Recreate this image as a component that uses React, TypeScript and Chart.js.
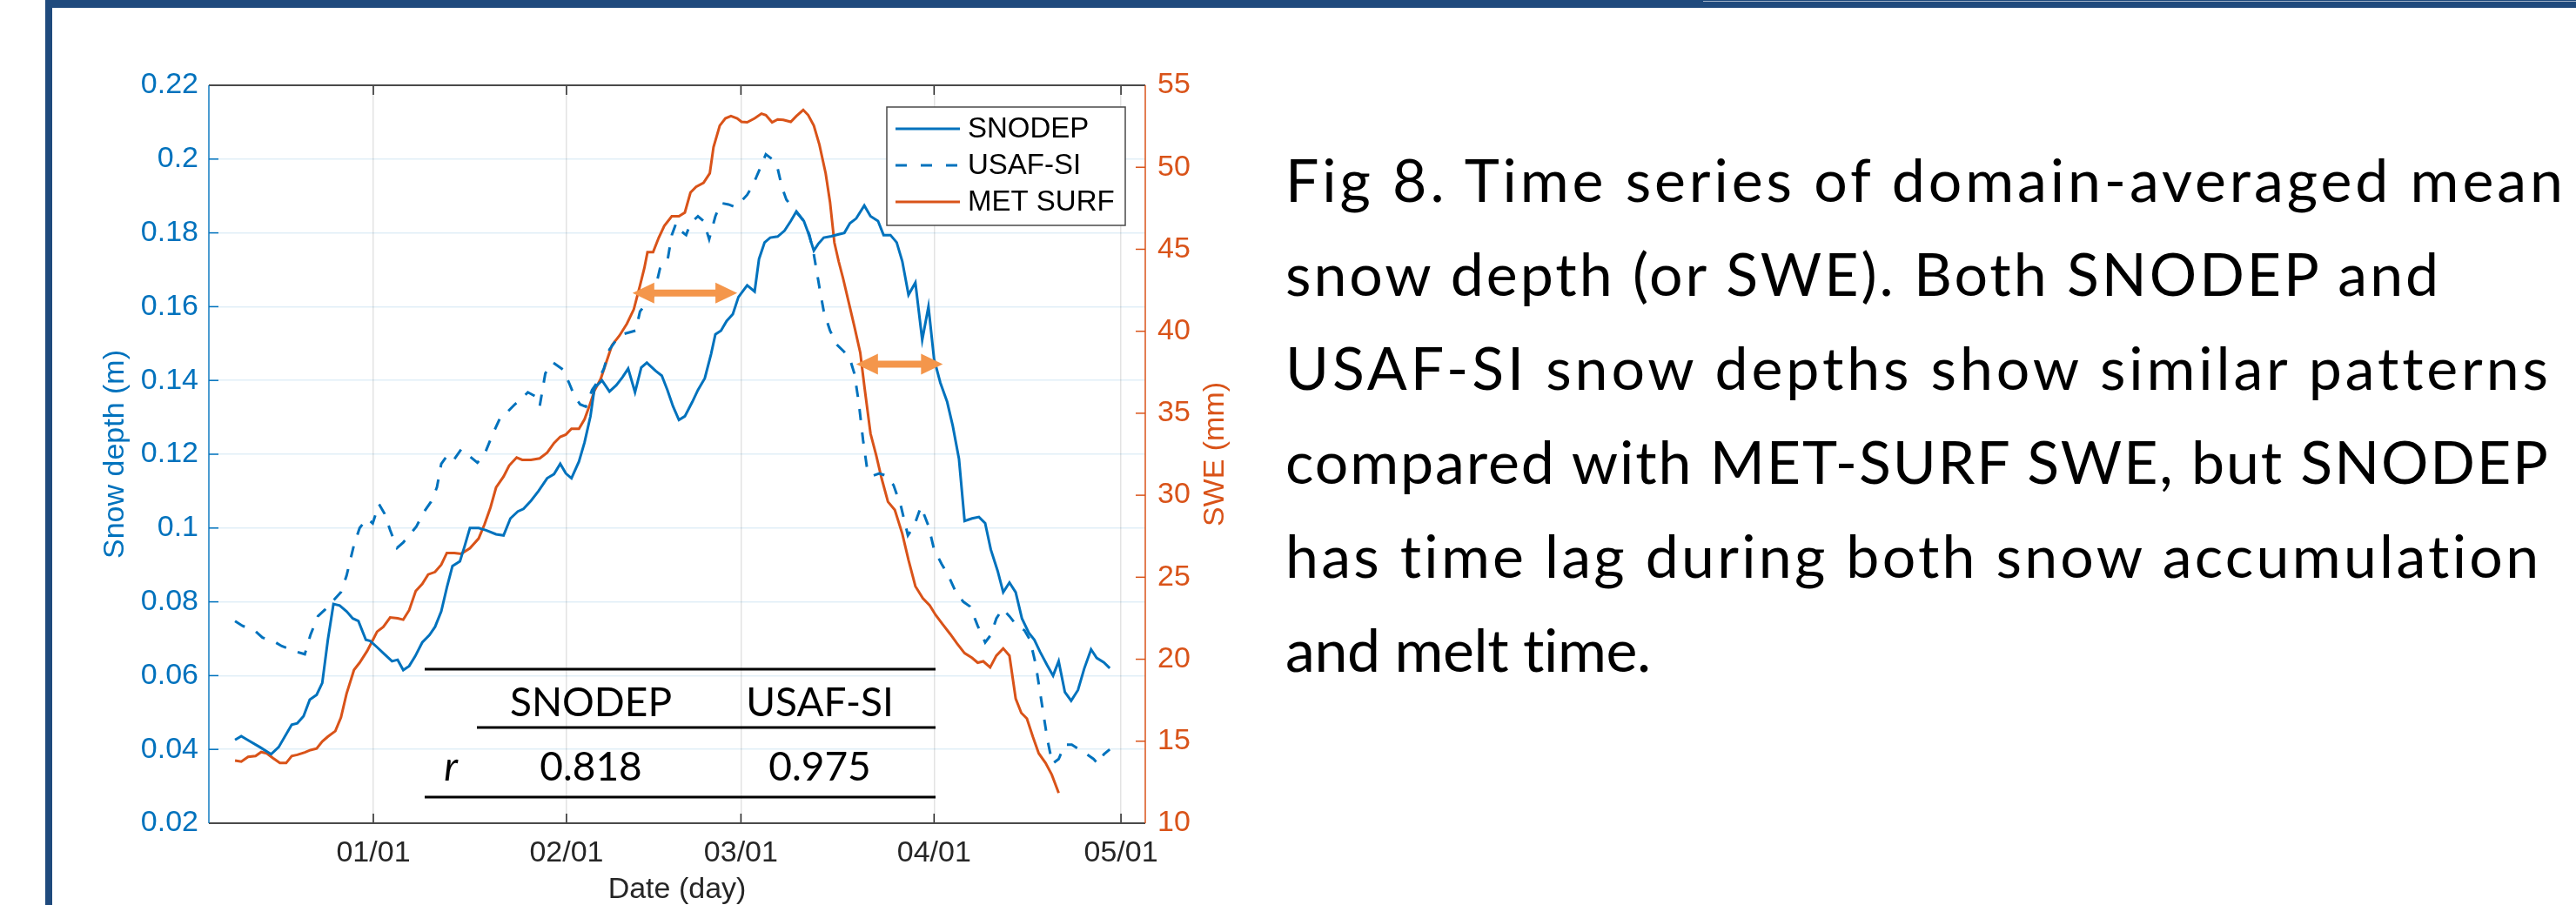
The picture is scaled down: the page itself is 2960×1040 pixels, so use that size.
import React, { useEffect, useRef } from "react";
import { Chart, registerables } from "chart.js";

Chart.register(...registerables);

// ---------- data ----------
// x: days relative to 1 January (Dec 10 = -22, Apr 29 = 118)
const tickDays = [0, 31, 59, 90, 120];
const tickLabels = ["01/01", "02/01", "03/01", "04/01", "05/01"];
const depthTicks = [0.02, 0.04, 0.06, 0.08, 0.1, 0.12, 0.14, 0.16, 0.18, 0.2, 0.22];
const sweTicks = [10, 15, 20, 25, 30, 35, 40, 45, 50, 55];

const snodepDay = [
  -22.2, -21.2, -20.2, -18.2, -16.4, -15.2, -13.1, -12.2, -11.2, -10.2,
  -9.1, -8.2, -7.3, -6.4, -5.4, -4.3, -3.3, -2.4, -1.2, -0.5,
  0.6, 1.8, 3.0, 3.9, 4.8, 5.75, 6.7, 7.85, 9.0, 9.9,
  10.9, 11.8, 12.7, 13.9, 14.6, 15.5, 16.9, 18.1, 19.7, 20.9,
  22.0, 23.2, 24.1, 25.3, 26.5, 27.9, 29.0, 30.0, 30.9, 31.8,
  33.0, 33.9, 34.85, 35.5, 36.7, 37.9, 39.0, 40.0, 40.9, 42.0,
  43.0, 43.9, 45.3, 46.3, 47.2, 48.1, 49.05, 50.0, 51.2, 52.1,
  53.2, 54.2, 54.9, 55.8, 56.7, 57.7, 58.6, 60.0, 61.2, 61.9,
  62.8, 63.7, 64.9, 66.0, 67.0, 67.9, 69.1, 69.8, 70.7, 71.4,
  72.3, 73.5, 74.7, 75.6, 76.5, 77.5, 78.8, 79.8, 81.0, 81.9,
  83.0, 84.0, 84.9, 85.9, 87.0, 88.1, 89.1, 90.0, 91.0, 92.1,
  93.0, 94.0, 94.9, 96.1, 97.2, 98.2, 99.1, 100.2, 101.1, 102.1,
  103.1, 104.1, 105.2, 106.1, 107.0, 108.1, 109.1, 110.0, 111.0, 112.0,
  113.1, 114.1, 115.2, 116.1, 117.25, 118.2,
];
const snodepDepth = [
  0.0426, 0.0436, 0.0426, 0.0406, 0.0387, 0.0406, 0.0467, 0.0471, 0.049, 0.0535,
  0.0548, 0.058, 0.0697, 0.0794, 0.079, 0.0774, 0.0755, 0.0748, 0.0697, 0.0694,
  0.0677, 0.0658, 0.0639, 0.0643, 0.0615, 0.0626, 0.0652, 0.069, 0.071, 0.0732,
  0.0774, 0.0839, 0.0897, 0.091, 0.0948, 0.1, 0.1, 0.0994, 0.0983, 0.098,
  0.1026, 0.1045, 0.1052, 0.1074, 0.11, 0.1135, 0.1146, 0.1174, 0.1148, 0.1135,
  0.118, 0.1232, 0.1303, 0.138, 0.14, 0.137, 0.1387, 0.1409, 0.1432, 0.1368,
  0.1435, 0.1448, 0.1426, 0.1413, 0.1374, 0.133, 0.1293, 0.1303, 0.1342, 0.1374,
  0.1406, 0.1471, 0.1525, 0.1535, 0.1561, 0.158, 0.1626, 0.1658, 0.1641, 0.1729,
  0.1774, 0.1787, 0.179, 0.1806, 0.1832, 0.1858, 0.1832, 0.18, 0.1752, 0.177,
  0.1787, 0.1791, 0.1796, 0.18, 0.1826, 0.1839, 0.1874, 0.1845, 0.1832, 0.1794,
  0.1794, 0.1774, 0.1723, 0.1632, 0.1665, 0.151, 0.16, 0.1458, 0.1394, 0.1342,
  0.1277, 0.1187, 0.1019, 0.1026, 0.103, 0.1013, 0.0942, 0.0884, 0.0826, 0.0852,
  0.0826, 0.0755, 0.0716, 0.0697, 0.0665, 0.063, 0.06, 0.0639, 0.0555, 0.0532,
  0.0561, 0.0619, 0.0671, 0.0648, 0.0636, 0.062,
];

const usafDay = [
  -22.2, -21.0, -18.9, -17.8, -15.7, -14.7, -12.4, -11.0, -10.1, -8.9,
  -7.7, -6.6, -5.2, -4.3, -3.1, -2.2, -1.0, -0.1, 0.9, 1.8,
  2.7, 3.8, 4.8, 5.75, 6.9, 8.1, 9.25, 10.2, 10.9, 12.0,
  13.0, 14.1, 15.5, 16.7, 17.85, 19.25, 20.4, 21.6, 22.7, 23.9,
  24.8, 26.0, 26.7, 27.6, 28.8, 30.4, 31.4, 32.3, 33.2, 34.1,
  35.1, 36.0, 37.0, 37.9, 39.0, 40.2, 42.1, 42.8, 43.7, 44.6,
  45.3, 46.0, 47.2, 47.9, 48.6, 49.3, 50.2, 50.9, 52.1, 53.0,
  53.9, 54.9, 55.8, 57.0, 57.9, 58.8, 60.0, 60.9, 61.9, 63.0,
  64.0, 64.9, 65.6, 66.3, 67.2, 68.1, 69.1, 70.0, 70.7, 71.6,
  72.3, 73.3, 74.4, 75.6, 76.5, 77.2, 77.9, 78.6, 79.3, 80.2,
  81.2, 82.3, 83.5, 84.7, 85.8, 86.8, 87.9, 89.1, 90.0, 91.2,
  92.3, 93.5, 94.7, 95.8, 97.0, 98.2, 99.1, 100.0, 101.0, 102.1,
  103.3, 104.5, 105.4, 106.3, 107.25, 108.2, 109.0, 110.0, 111.0, 112.1,
  113.3, 114.5, 115.6, 116.3, 117.25, 118.2,
];
const usafDepth = [
  0.0748, 0.0735, 0.072, 0.0703, 0.069, 0.068, 0.0665, 0.0658, 0.071, 0.0761,
  0.078, 0.08, 0.0826, 0.0871, 0.0955, 0.1, 0.1026, 0.1013, 0.1065, 0.1039,
  0.0994, 0.0946, 0.0961, 0.098, 0.1004, 0.1043, 0.1071, 0.111, 0.1174, 0.12,
  0.1187, 0.1213, 0.1194, 0.1177, 0.12, 0.1258, 0.13, 0.1316, 0.1335, 0.1352,
  0.1368, 0.1357, 0.133, 0.1419, 0.1449, 0.143, 0.1394, 0.1357, 0.1335, 0.1329,
  0.1374, 0.1396, 0.1432, 0.1484, 0.151, 0.1526, 0.1535, 0.1587, 0.1606, 0.1613,
  0.1652, 0.1703, 0.1723, 0.1794, 0.1826, 0.1806, 0.1794, 0.1826, 0.1845, 0.1832,
  0.1783, 0.1845, 0.1881, 0.1877, 0.1871, 0.1881, 0.1903, 0.1929, 0.1968, 0.2013,
  0.2, 0.1974, 0.1923, 0.189, 0.1871, 0.1852, 0.1832, 0.1794, 0.1742, 0.1652,
  0.1587, 0.1535, 0.1497, 0.1477, 0.1458, 0.1419, 0.1342, 0.1239, 0.1155, 0.1142,
  0.1148, 0.1142, 0.1116, 0.1058, 0.098, 0.1006, 0.1058, 0.1006, 0.0942, 0.0903,
  0.0871, 0.0826, 0.08, 0.0787, 0.0735, 0.069, 0.071, 0.0755, 0.0781, 0.0761,
  0.0735, 0.0723, 0.0697, 0.0632, 0.0529, 0.0426, 0.0361, 0.0374, 0.0413, 0.0413,
  0.04, 0.0387, 0.0374, 0.0361, 0.0387, 0.04,
];

const metDay = [
  -22.2, -21.2, -20.1, -18.9, -18.0, -17.1, -16.1, -15.0, -14.0, -13.1,
  -12.2, -11.0, -10.1, -9.1, -8.2, -7.3, -6.1, -5.2, -4.3, -3.1,
  -2.2, -1.0, -0.1, 0.6, 1.6, 2.7, 3.9, 4.8, 5.75, 6.8,
  7.85, 8.8, 9.9, 10.9, 11.8, 13.0, 14.1, 15.5, 16.9, 17.85,
  18.8, 19.7, 20.9, 21.8, 23.0, 23.9, 25.3, 26.7, 27.9, 29.0,
  30.0, 30.9, 31.8, 33.0, 33.9, 34.6, 35.5, 36.5, 37.4, 38.3,
  39.5, 40.7, 41.8, 42.8, 43.5, 44.0, 44.9, 45.8, 46.7, 47.9,
  49.05, 50.0, 50.9, 51.8, 53.0, 54.0, 54.6, 55.6, 56.5, 57.4,
  58.4, 59.1, 60.0, 61.2, 62.3, 63.0, 64.0, 64.9, 65.8, 67.0,
  67.9, 69.0, 69.8, 70.7, 71.6, 72.6, 73.3, 74.0, 74.7, 75.4,
  76.3, 77.2, 78.15, 78.85, 79.8, 80.7, 81.6, 82.6, 83.7, 84.9,
  85.9, 87.0, 88.2, 89.3, 90.25, 91.4, 92.6, 93.7, 94.9, 96.1,
  97.0, 97.9, 99.0, 100.0, 101.1, 102.1, 103.1, 104.0, 104.9, 105.85,
  106.8, 107.9, 108.9, 110.0,
];
const metSwe = [
  13.82, 13.76, 14.05, 14.1, 14.34, 14.26, 13.97, 13.67, 13.67, 14.1,
  14.17, 14.32, 14.46, 14.55, 14.98, 15.28, 15.62, 16.44, 17.9, 19.35,
  19.79, 20.5, 21.16, 21.68, 21.97, 22.55, 22.5, 22.41, 22.99, 24.15,
  24.59, 25.17, 25.32, 25.76, 26.48, 26.48, 26.43, 26.77, 27.36, 28.23,
  29.25, 30.47, 31.14, 31.81, 32.3, 32.16, 32.16, 32.25, 32.6, 33.18,
  33.56, 33.7, 34.05, 34.05, 34.63, 35.36, 36.38, 37.1, 38.13, 39.15,
  39.73, 40.46, 41.33, 42.79, 43.86, 44.82, 44.82, 45.7, 46.43, 47.01,
  47.01, 47.24, 48.46, 48.81, 49.05, 49.63, 51.23, 52.54, 52.98, 53.12,
  52.98, 52.77, 52.74, 52.98, 53.27, 53.18, 52.74, 52.92, 52.89, 52.77,
  53.12, 53.5, 53.18, 52.54, 51.37, 49.63, 47.88, 45.41, 44.24, 43.22,
  41.77, 40.31, 38.7, 36.53, 33.76, 32.45, 31.0, 29.6, 29.1, 27.65,
  26.05, 24.45, 23.72, 23.28, 22.7, 22.12, 21.53, 20.95, 20.37, 20.08,
  19.79, 19.87, 19.5, 20.22, 20.66, 20.22, 17.6, 16.73, 16.38, 15.28,
  14.26, 13.67, 12.95, 11.84,
];

const seriesNames = ["SNODEP", "USAF-SI", "MET SURF"];

// lag arrows: [start day, end day, snow depth level]
const lagArrows = [
  [41.6, 58.4, 0.1637],
  [77.5, 91.4, 0.1444],
];

const tableHeader = ["SNODEP", "USAF-SI"];
const tableRowLabel = "r";
const tableValues = ["0.818", "0.975"];

const paragraphLines = [
  "Fig 8. Time series of domain-averaged mean",
  "snow depth (or SWE). Both SNODEP and",
  "USAF-SI snow depths show similar patterns",
  "compared with MET-SURF SWE, but SNODEP",
  "has time lag during both snow accumulation",
  "and melt time.",
];
// rendered width of each paragraph line in the reference (px)
const paragraphWidths = [1468, 1325, 1451, 1451, 1440, 420];

// ---------- style ----------
const BLUE = "#0072BD";
const ORANGE = "#D95319";
const ARROW = "#F4964B";
const AXIS_DARK = "#262626";
const TICK_FONT = { family: "'Liberation Sans', Arial, sans-serif", size: 34 };
const X_MIN = -26.4;
const X_MAX = 123.9;

const pts = (days: number[], vals: number[]) => days.map((d, i) => ({ x: d, y: vals[i] }));

const decorPlugin = {
  id: "decor",
  afterDraw(chart: any) {
    const { ctx, chartArea: a, scales } = chart;
    const sx = scales.x;
    const sy = scales.y;
    const sy1 = scales.y1;
    const line = (x1: number, y1: number, x2: number, y2: number) => {
      ctx.beginPath();
      ctx.moveTo(x1, y1);
      ctx.lineTo(x2, y2);
      ctx.stroke();
    };
    ctx.save();
    ctx.lineCap = "butt";

    // inward tick marks
    ctx.strokeStyle = AXIS_DARK;
    ctx.lineWidth = 1.5;
    tickDays.forEach((d) => {
      const px = sx.getPixelForValue(d);
      line(px, a.bottom, px, a.bottom - 11);
      line(px, a.top, px, a.top + 11);
    });
    ctx.strokeStyle = BLUE;
    depthTicks.forEach((v) => {
      const py = sy.getPixelForValue(v);
      line(a.left, py, a.left + 11, py);
    });
    ctx.strokeStyle = ORANGE;
    sweTicks.forEach((v) => {
      const py = sy1.getPixelForValue(v);
      line(a.right, py, a.right - 11, py);
    });

    // axis box
    ctx.strokeStyle = "#4a4a4a";
    ctx.lineWidth = 2;
    line(a.left, a.top, a.right, a.top);
    line(a.left, a.bottom, a.right, a.bottom);
    ctx.strokeStyle = "rgba(0,114,189,0.7)";
    line(a.left, a.top, a.left, a.bottom);
    ctx.strokeStyle = "rgba(217,83,25,0.75)";
    line(a.right, a.top, a.right, a.bottom);

    // lag arrows
    ctx.fillStyle = ARROW;
    lagArrows.forEach(([d1, d2, v]) => {
      const x1 = sx.getPixelForValue(d1);
      const x2 = sx.getPixelForValue(d2);
      const y = sy.getPixelForValue(v);
      const head = 25, half = 12, sh = 4;
      ctx.beginPath();
      ctx.moveTo(x1, y);
      ctx.lineTo(x1 + head, y - half);
      ctx.lineTo(x1 + head, y - sh);
      ctx.lineTo(x2 - head, y - sh);
      ctx.lineTo(x2 - head, y - half);
      ctx.lineTo(x2, y);
      ctx.lineTo(x2 - head, y + half);
      ctx.lineTo(x2 - head, y + sh);
      ctx.lineTo(x1 + head, y + sh);
      ctx.lineTo(x1 + head, y + half);
      ctx.closePath();
      ctx.fill();
    });

    // correlation table
    ctx.strokeStyle = "#000";
    ctx.lineWidth = 3;
    line(488, 769, 1075, 769);
    line(548, 836, 1075, 836);
    line(488, 916, 1075, 916);
    ctx.fillStyle = "#000";
    ctx.textAlign = "center";
    ctx.textBaseline = "alphabetic";
    ctx.font = "46px Lato, 'Open Sans', sans-serif";
    ctx.fillText(tableHeader[0], 679, 823);
    ctx.fillText(tableHeader[1], 942, 823);
    ctx.fillText(tableValues[0], 679, 897);
    ctx.fillText(tableValues[1], 942, 897);
    ctx.font = "italic 46px Lato, 'Open Sans', sans-serif";
    ctx.fillText(tableRowLabel, 518, 897);

    // legend
    const lx = 1019, ly = 123, lw = 274, lh = 136;
    ctx.fillStyle = "#fff";
    ctx.fillRect(lx, ly, lw, lh);
    ctx.strokeStyle = "#4a4a4a";
    ctx.lineWidth = 1.5;
    ctx.strokeRect(lx, ly, lw, lh);
    const rows = [148, 190, 232];
    const colors = [BLUE, BLUE, ORANGE];
    const dashes = [[], [13, 16], []];
    rows.forEach((ry, i) => {
      ctx.strokeStyle = colors[i];
      ctx.lineWidth = 3;
      ctx.setLineDash(dashes[i]);
      line(1029, ry, 1103, ry);
      ctx.setLineDash([]);
      ctx.fillStyle = "#000";
      ctx.textAlign = "left";
      ctx.textBaseline = "middle";
      ctx.font = "33px 'Liberation Sans', Arial, sans-serif";
      ctx.fillText(seriesNames[i], 1112, ry + 1);
    });

    // axis titles
    ctx.font = "34px 'Liberation Sans', Arial, sans-serif";
    ctx.textAlign = "center";
    ctx.textBaseline = "middle";
    const midY = (a.top + a.bottom) / 2;
    ctx.fillStyle = BLUE;
    ctx.save();
    ctx.translate(133, midY);
    ctx.rotate(-Math.PI / 2);
    ctx.fillText("Snow depth (m)", 0, 0);
    ctx.restore();
    ctx.fillStyle = ORANGE;
    ctx.save();
    ctx.translate(1397, midY);
    ctx.rotate(-Math.PI / 2);
    ctx.fillText("SWE (mm)", 0, 0);
    ctx.restore();
    ctx.fillStyle = AXIS_DARK;
    ctx.fillText("Date (day)", (a.left + a.right) / 2, 1023);

    ctx.restore();
  },
};

export default function App() {
  const canvasRef = useRef<HTMLCanvasElement | null>(null);
  const lineRefs = useRef<(HTMLSpanElement | null)[]>([]);

  useEffect(() => {
    lineRefs.current.forEach((el, i) => {
      if (!el) return;
      el.style.letterSpacing = "0px";
      const w = el.getBoundingClientRect().width;
      const n = paragraphLines[i].length;
      const ls = (paragraphWidths[i] - w) / Math.max(1, n - 1);
      el.style.letterSpacing = `${ls.toFixed(2)}px`;
    });
  }, []);

  useEffect(() => {
    const canvas = canvasRef.current;
    if (!canvas) return;
    const chart = new Chart(canvas, {
      type: "line",
      data: {
        datasets: [
          {
            label: seriesNames[0],
            data: pts(snodepDay, snodepDepth),
            borderColor: BLUE,
            borderWidth: 3,
            yAxisID: "y",
          },
          {
            label: seriesNames[1],
            data: pts(usafDay, usafDepth),
            borderColor: BLUE,
            borderWidth: 3,
            borderDash: [13, 14],
            yAxisID: "y",
          },
          {
            label: seriesNames[2],
            data: pts(metDay, metSwe),
            borderColor: ORANGE,
            borderWidth: 3,
            yAxisID: "y1",
          },
        ],
      },
      options: {
        responsive: false,
        animation: false,
        devicePixelRatio: 1,
        layout: { padding: { top: 98, left: 0, right: 0, bottom: 0 } },
        elements: { point: { radius: 0 }, line: { tension: 0, fill: false } },
        plugins: { legend: { display: false }, tooltip: { enabled: false } },
        scales: {
          x: {
            type: "linear",
            min: X_MIN,
            max: X_MAX,
            afterBuildTicks: (s: any) => {
              s.ticks = tickDays.map((v) => ({ value: v }));
            },
            afterFit: (s: any) => {
              s.height = 94;
            },
            ticks: {
              autoSkip: false,
              maxRotation: 0,
              minRotation: 0,
              padding: 14,
              color: AXIS_DARK,
              font: TICK_FONT,
              callback: (v: any) => {
                const i = tickDays.indexOf(Number(v));
                return i >= 0 ? tickLabels[i] : "";
              },
            },
            grid: { color: "rgba(38,38,38,0.13)", lineWidth: 1.5, drawTicks: false },
            border: { display: false },
          },
          y: {
            type: "linear",
            position: "left",
            min: 0.02,
            max: 0.22,
            afterBuildTicks: (s: any) => {
              s.ticks = depthTicks.map((v) => ({ value: v }));
            },
            afterFit: (s: any) => {
              s.width = 240;
            },
            ticks: {
              padding: 12,
              color: BLUE,
              font: TICK_FONT,
              callback: (v: any) => String(Number(v)),
            },
            grid: { color: "rgba(0,114,189,0.12)", lineWidth: 1.5, drawTicks: false },
            border: { display: false },
          },
          y1: {
            type: "linear",
            position: "right",
            min: 10,
            max: 55,
            afterBuildTicks: (s: any) => {
              s.ticks = sweTicks.map((v) => ({ value: v }));
            },
            afterFit: (s: any) => {
              s.width = 1480 - 1316;
            },
            ticks: {
              padding: 14,
              color: ORANGE,
              font: TICK_FONT,
              callback: (v: any) => String(Number(v)),
            },
            grid: { display: false, drawTicks: false },
            border: { display: false },
          },
        },
      },
      plugins: [decorPlugin],
    } as any);
    return () => chart.destroy();
  }, []);

  return (
    <div
      style={{
        position: "fixed",
        left: 0,
        top: 0,
        width: 2960,
        height: 1040,
        background: "#fff",
        overflow: "hidden",
      }}
    >
      <div style={{ position: "absolute", left: 52, top: 0, width: 2908, height: 9, background: "#1F4A7D" }} />
      <div style={{ position: "absolute", left: 1957, top: 1, width: 1003, height: 1, background: "#9fb0c6" }} />
      <div style={{ position: "absolute", left: 52, top: 0, width: 8, height: 1040, background: "#1F4A7D" }} />
      <canvas
        ref={canvasRef}
        width={1480}
        height={1040}
        style={{ position: "absolute", left: 0, top: 0, width: 1480, height: 1040 }}
      />
      <div
        style={{
          position: "absolute",
          left: 1477,
          top: 152,
          fontFamily: "Lato, 'Open Sans', sans-serif",
          fontSize: 68,
          lineHeight: "108px",
          color: "#000",
          whiteSpace: "nowrap",
          fontVariantLigatures: "none",
        }}
      >
        {paragraphLines.map((l, i) => (
          <div key={i}>
            <span
              ref={(el) => {
                lineRefs.current[i] = el;
              }}
              style={{ display: "inline-block", whiteSpace: "nowrap" }}
            >
              {l}
            </span>
          </div>
        ))}
      </div>
    </div>
  );
}
